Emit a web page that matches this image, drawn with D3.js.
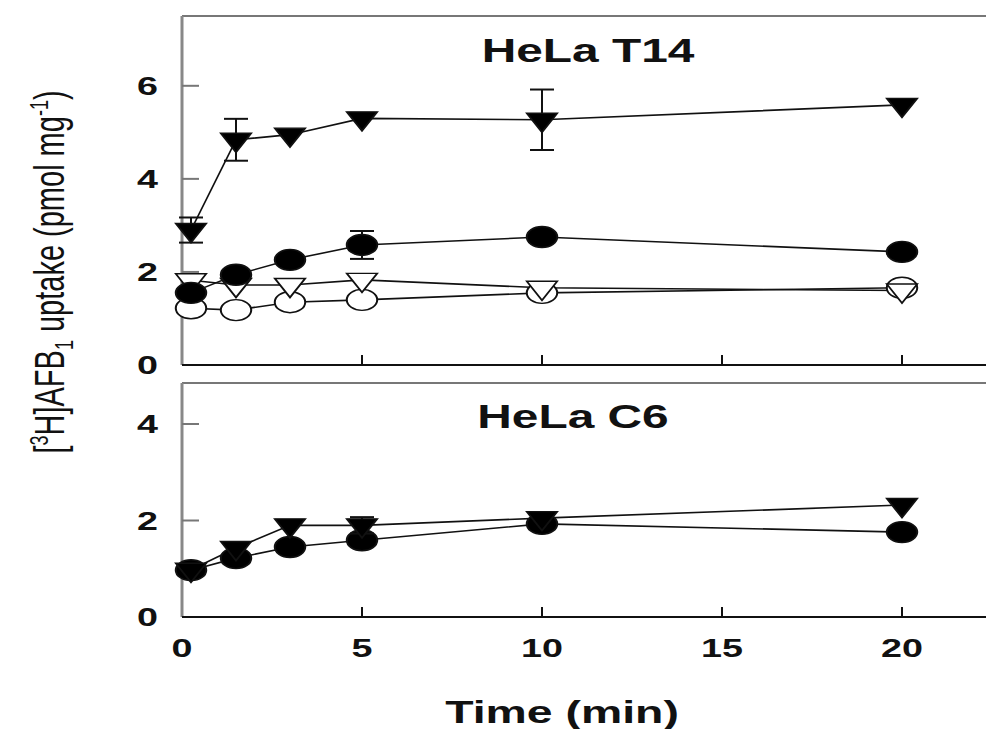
<!DOCTYPE html>
<html>
<head>
<meta charset="utf-8">
<title>AFB1 uptake</title>
<script src="https://cdn.jsdelivr.net/npm/d3@7"></script>
<style>
    body { margin: 0; background: #fff; }
    text { font-family: "Liberation Sans", Arial, sans-serif; fill: #111; }
</style>
</head>
<body>
<div id="chart"></div>
<script>
    const width = 986, height = 729;
    const stretch = 1.45; // the figure is drawn wide, text and markers too

    // sampling times (min)
    const times = [0.25, 1.5, 3, 5, 10, 20];

    // HeLa T14
    const t14FilledTri = [2.9, 4.84, 4.95, 5.3, 5.27, 5.59];
    const t14FilledTriErr = [0.27, 0.45, 0, 0, 0.65, 0];
    const t14FilledCirc = [1.55, 1.94, 2.26, 2.58, 2.75, 2.43];
    const t14FilledCircErr = [0.12, 0, 0, 0.3, 0.1, 0];
    const t14OpenTri = [1.82, 1.72, 1.72, 1.83, 1.66, 1.6];
    const t14OpenCirc = [1.22, 1.18, 1.35, 1.4, 1.55, 1.66];

    // HeLa C6
    const c6FilledTri = [0.98, 1.43, 1.9, 1.9, 2.05, 2.32];
    const c6FilledTriErr = [0, 0, 0, 0.17, 0, 0];
    const c6FilledCirc = [0.97, 1.22, 1.45, 1.59, 1.93, 1.76];

    const xTicks = [0, 5, 10, 15, 20];
    const topTicks = [0, 2, 4, 6];
    const bottomTicks = [0, 2, 4];

    const svg = d3.select("#chart").append("svg")
        .attr("width", width)
        .attr("height", height);

    const x = d3.scaleLinear().domain([0, 22.5]).range([182, 992]);

    const panels = [
        {
            title: "HeLa T14", titleX: 588, titleY: 62,
            y: d3.scaleLinear().domain([0, 7.5]).range([365, 16]),
            ticks: topTicks,
            series: [
                { vals: t14OpenCirc, shape: "circle", fill: "#fff" },
                { vals: t14OpenTri, shape: "tri", fill: "#fff" },
                { vals: t14FilledCirc, err: t14FilledCircErr, shape: "circle", fill: "#000" },
                { vals: t14FilledTri, err: t14FilledTriErr, shape: "tri", fill: "#000" }
            ]
        },
        {
            title: "HeLa C6", titleX: 573, titleY: 428,
            y: d3.scaleLinear().domain([0, 4.85]).range([617, 383]),
            ticks: bottomTicks,
            series: [
                { vals: c6FilledCirc, shape: "circle", fill: "#000" },
                { vals: c6FilledTri, err: c6FilledTriErr, shape: "tri", fill: "#000" }
            ]
        }
    ];

    // marker outlines before the horizontal stretch
    const triPath = "M-10.5,-6.5L10.5,-6.5L0,12.5Z";

    panels.forEach(p => {
        const g = svg.append("g");
        const y = p.y;
        const [y0, y1] = y.range();

        // frame: grey left axis and top border, black bottom axis
        g.append("line")
            .attr("x1", x(0)).attr("x2", width)
            .attr("y1", y1).attr("y2", y1)
            .attr("stroke", "#777").attr("stroke-width", 2);
        g.append("line")
            .attr("x1", x(0)).attr("x2", x(0))
            .attr("y1", y1).attr("y2", y0)
            .attr("stroke", "#888").attr("stroke-width", 3);
        g.append("line")
            .attr("x1", x(0)).attr("x2", width)
            .attr("y1", y0).attr("y2", y0)
            .attr("stroke", "#111").attr("stroke-width", 2);

        // x ticks point up into the plot
        g.selectAll(".xt")
            .data(xTicks.filter(d => d > 0))
            .join("line")
            .attr("x1", d => x(d)).attr("x2", d => x(d))
            .attr("y1", y0).attr("y2", y0 - 10)
            .attr("stroke", "#111").attr("stroke-width", 2);

        // y ticks point right
        g.selectAll(".yt")
            .data(p.ticks.filter(d => d > 0))
            .join("line")
            .attr("x1", x(0)).attr("x2", x(0) + 17)
            .attr("y1", d => y(d)).attr("y2", d => y(d))
            .attr("stroke", "#777").attr("stroke-width", 2);

        g.selectAll(".ytl")
            .data(p.ticks)
            .join("text")
            .attr("transform", d => `translate(158,${y(d) + 9}) scale(${stretch},1)`)
            .attr("text-anchor", "end")
            .attr("font-size", 26)
            .attr("font-weight", "bold")
            .text(d => d);

        g.append("text")
            .attr("transform", `translate(${p.titleX},${p.titleY}) scale(${stretch},1)`)
            .attr("text-anchor", "middle")
            .attr("font-size", 33)
            .attr("font-weight", "bold")
            .text(p.title);

        const line = d3.line()
            .x((d, i) => x(times[i]))
            .y(d => y(d));

        p.series.forEach(s => {
            g.append("path")
                .datum(s.vals)
                .attr("fill", "none")
                .attr("stroke", "#111")
                .attr("stroke-width", 1.6)
                .attr("d", line);
        });

        p.series.forEach(s => {
            if (s.err) {
                const eb = g.append("g").attr("stroke", "#111").attr("stroke-width", 2);
                s.vals.forEach((v, i) => {
                    const e = s.err[i];
                    if (!e) return;
                    const cx = x(times[i]);
                    eb.append("line")
                        .attr("x1", cx).attr("x2", cx)
                        .attr("y1", y(v - e)).attr("y2", y(v + e));
                    [v - e, v + e].forEach(c => {
                        eb.append("line")
                            .attr("x1", cx - 12).attr("x2", cx + 12)
                            .attr("y1", y(c)).attr("y2", y(c));
                    });
                });
            }
            const m = g.append("g")
                .selectAll("g")
                .data(s.vals)
                .join("g")
                .attr("transform", (d, i) => `translate(${x(times[i])},${y(d)}) scale(${stretch},1)`);
            if (s.shape === "circle") {
                m.append("circle")
                    .attr("r", 10.5)
                    .attr("fill", s.fill)
                    .attr("stroke", "#111")
                    .attr("stroke-width", 1.4);
            } else {
                m.append("path")
                    .attr("d", triPath)
                    .attr("fill", s.fill)
                    .attr("stroke", "#111")
                    .attr("stroke-width", 1.4);
            }
        });
    });

    // x axis labels
    svg.selectAll(".xtl")
        .data(xTicks)
        .join("text")
        .attr("transform", d => `translate(${x(d)},657) scale(${stretch},1)`)
        .attr("text-anchor", "middle")
        .attr("font-size", 26)
        .attr("font-weight", "bold")
        .text(d => d);

    svg.append("text")
        .attr("transform", `translate(562,723) scale(${stretch},1)`)
        .attr("text-anchor", "middle")
        .attr("font-size", 32)
        .attr("font-weight", "bold")
        .text("Time (min)");

    // y axis label with super/subscripts
    const yl = svg.append("text")
        .attr("transform", `translate(64,272) scale(${stretch},1) rotate(-90)`)
        .attr("text-anchor", "middle")
        .attr("font-size", 29);
    yl.append("tspan").text("[");
    yl.append("tspan").attr("dy", -11).attr("font-size", 18).text("3");
    yl.append("tspan").attr("dy", 11).text("H]AFB");
    yl.append("tspan").attr("dy", 6).attr("font-size", 18).text("1");
    yl.append("tspan").attr("dy", -6).text(" uptake (pmol mg");
    yl.append("tspan").attr("dy", -11).attr("font-size", 18).text("-1");
    yl.append("tspan").attr("dy", 11).text(")");
</script>
</body>
</html>
